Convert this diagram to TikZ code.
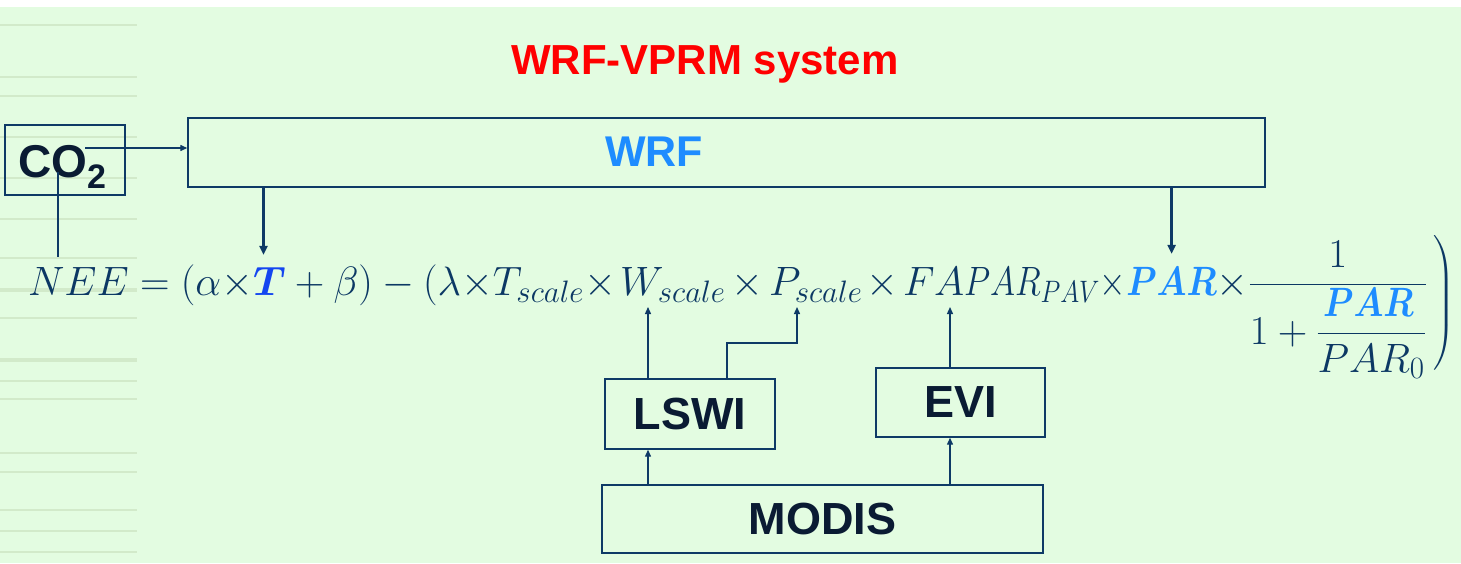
\RequirePackage{fix-cm}
\documentclass[tikz,border=0pt]{standalone}
\usepackage{amsmath}
\usepackage{fontspec}
\usepackage{bm}
\usepackage{graphicx}
\usetikzlibrary{arrows.meta,calc}
\newfontfamily\arialfont{Liberation Sans}
\DeclareMathSizes{41}{41}{31}{24}
\definecolor{bggreen}{RGB}{227,252,225}
\definecolor{rulegreen}{RGB}{210,234,202}
\definecolor{boxline}{RGB}{14,58,102}
\definecolor{boxtext}{RGB}{10,27,51}
\definecolor{eqnavy}{RGB}{12,56,100}
\definecolor{tblue}{RGB}{20,70,240}
\definecolor{parblue}{RGB}{30,140,255}
\definecolor{titlered}{RGB}{255,0,0}
\newcommand{\boldpar}{\scalebox{0.84}[1]{$\color{parblue}\bm{PAR}$}}
\tikzset{
  box/.style={draw=boxline, line width=1.4pt, inner sep=0pt, text=boxtext,
              font=\arialfont\bfseries\fontsize{45}{50}\selectfont},
  eq/.style={inner sep=0pt, outer sep=0pt, text=eqnavy, font=\fontsize{41}{50}\selectfont, anchor=base west},
  thinarr/.style={draw=boxline, line width=1.3pt, -{Triangle[length=7pt,width=6pt]}},
  thickarr/.style={draw=boxline, line width=2.4pt, -{Triangle[length=9pt,width=8pt]}},
  plainline/.style={draw=boxline, line width=1.3pt},
  leftrule/.style={draw=rulegreen, line width=1.2pt},
}
\begin{document}
\begin{tikzpicture}[x=1pt,y=-1pt]
\useasboundingbox (0,0) rectangle (1461,563);
\fill[white] (0,0) rectangle (1461,7);
\fill[bggreen] (0,7) rectangle (1461,563);
\foreach \yy in {25,77,96,137,178,219,258,318,381,399,453,472,510,531,552}
  \draw[leftrule] (0,\yy) -- (137,\yy);
\foreach \yy in {290,360}
  \draw[leftrule, line width=3.5pt] (0,\yy) -- (137,\yy);

% title
\node[text=titlered, font=\arialfont\bfseries\fontsize{42}{50}\selectfont, inner sep=0pt] (title) at (705,64) {WRF-VPRM system};

% boxes
\node[box, minimum width=120pt, minimum height=70pt] (co2) at (65,160) {};
\node[text=boxtext, font=\arialfont\bfseries\fontsize{46}{50}\selectfont, inner sep=0pt, anchor=base west] (co2text) at (18,177) {CO\raisebox{-11pt}{\fontsize{34}{36}\selectfont 2}};
\node[box, minimum width=1077pt, minimum height=69pt] (wrf) at (726.5,152.5) {};
\node[text=parblue, font=\arialfont\bfseries\fontsize{43}{50}\selectfont, inner sep=0pt] (wrftext) at (654,151.5) {WRF};
\node[box, minimum width=170pt, minimum height=70pt] (lswi) at (690,414) {LSWI};
\node[box, minimum width=169pt, minimum height=69pt] (evi) at (960.5,402.5) {EVI};
\node[box, minimum width=441pt, minimum height=68pt] (modis) at (822.5,519) {MODIS};

% equation
\node[eq] (e1) at (28,295) {$\displaystyle NEE=(\alpha{\times}$};
\node[eq] (eT) at (e1.base east) {$\displaystyle\color{tblue}\bm{T}$};
\node[eq] (e2) at (eT.base east) {$\displaystyle{}+\beta)-(\lambda{\times}T_{scale}{\times}$};
\node[eq] (eW) at (620,295) {$\displaystyle W_{scale}$};
\node[eq] (eP) at (769,295) {$\displaystyle P_{scale}$};
\node[eq, anchor=base] (e3) at ($(eW.base east)!0.5!(eP.base west)$) {$\displaystyle{\times}$};
\node[eq] (eF) at (903,295) {$\displaystyle F$};
\node[eq, anchor=base] (e4) at ($(eP.base east)!0.5!(eF.base west)$) {$\displaystyle{\times}$};
\node[eq] (eA) at (934,295) {$\displaystyle A$};
\node[eq] (e5) at (eA.base east) {\scalebox{0.83}[1]{$\displaystyle PAR_{PAV}{\times}$}};
\node[eq] (ePAR) at (e5.base east) {\boldpar};
\node[eq] (e6) at (ePAR.base east) {$\displaystyle{\times}\frac{1}{1+\dfrac{\boldpar}{PAR_0}}$};
\node[eq] (e7) at ($(e6.base east)+(5,0)$) {\raisebox{-18pt}{$\left.\rule[-56pt]{0pt}{112pt}\right)$}};

% tips
\coordinate (ttip) at ($(eT.north)+(-6,-12)$);
\coordinate (partip) at ($(ePAR.north)+(0,-13)$);
\coordinate (wtip) at ($(eW.base west)+(28,12)$);
\coordinate (ptip) at ($(eP.base west)+(28,12)$);
\coordinate (atip) at ($(eA.base west)+(16,12)$);
\coordinate (pelbow) at ($(ptip)+(0,36)$);
\coordinate (co2h) at (85,148);
\coordinate (co2v) at (58,172);
\coordinate (neetop) at (58,257);

% connectors
\draw[thinarr] (co2h) -- (wrf.west |- co2h);
\draw[plainline] (co2v) -- (neetop);
\draw[thickarr] (wrf.south -| ttip) -- (ttip);
\draw[thickarr] (wrf.south -| partip) -- (partip);
\draw[thinarr] (lswi.north -| wtip) -- (wtip);
\draw[thinarr] ($(lswi.north)+(37,0)$) |- (pelbow) -- (ptip);
\draw[thinarr] (evi.north -| atip) -- (atip);
\draw[thinarr] (modis.north -| wtip) -- (lswi.south -| wtip);
\draw[thinarr] (modis.north -| atip) -- (evi.south -| atip);
\end{tikzpicture}
\end{document}
